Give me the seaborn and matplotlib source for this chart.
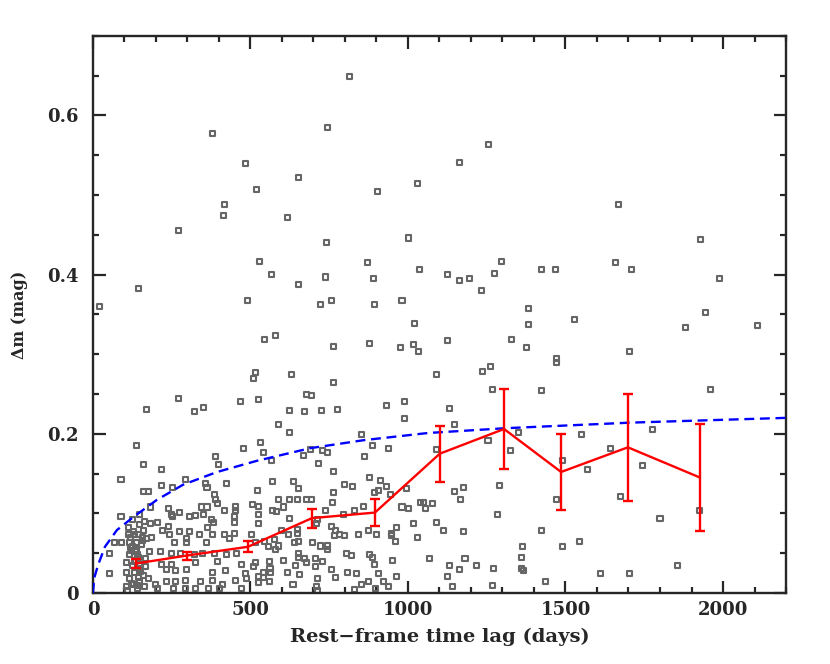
import numpy as np
import pandas as pd
import matplotlib
matplotlib.use("Agg")
import matplotlib.pyplot as plt
from matplotlib.ticker import MultipleLocator
import seaborn as sns

# individual pairs: rest-frame lag (days), |delta m| (mag)
lag = [
    813, 378, 743, 483, 654, 520, 902, 1029, 416, 413, 619, 270, 740, 1003, 530, 873,
    1035, 568, 737, 889, 654, 146, 22, 489, 721, 756, 895, 981, 1022, 543, 578, 765,
    879, 975, 1016, 1032, 517, 511, 629, 762, 1089,
    1257, 1162, 1667, 1927, 1298, 1660, 1124, 1162, 1194, 1276, 1425, 1467, 1708, 1990,
    1232, 1384, 1384, 1530, 1943, 1882, 2111, 1127, 1330, 1375, 1702, 1473, 1470, 1263,
    1235, 1959, 1267, 1425,
    1775, 1644, 1743, 1676, 1924, 1800, 1854, 1610, 1702,
    1133, 1149, 1352, 1552, 1254, 1089, 1327, 1489, 1571, 1175, 1149, 1289, 1168, 1473,
    1048, 1057, 1079, 1283, 1089, 1114, 1175, 1425, 1365, 1489, 1546, 1067, 1181, 1359,
    1133, 1219, 1162, 1270, 1359, 1368, 1124, 1140, 1267, 1435,
    524, 679, 695, 933, 990, 990, 625, 673, 727, 775, 590, 625, 533, 540, 854, 886,
    937, 689, 730, 746, 667, 863, 717, 568, 765, 879, 914, 571, 638, 800, 825, 933,
    651, 905, 895, 762, 946, 994, 521, 625, 648, 679, 695, 759, 590, 524, 606, 571,
    584, 737, 829, 860, 981, 1003, 1041, 625, 794, 524, 714, 527, 597, 648, 648, 654,
    641, 622, 756, 771, 784, 800, 768, 711, 844, 876, 901, 949, 949, 965, 959, 1016,
    1029, 543, 575, 556, 581, 590, 606, 698, 721, 743, 746, 806, 822, 651, 654, 673,
    705, 730, 679, 879, 886, 895, 952, 517, 559, 562, 540, 565, 616, 644, 705, 756,
    809, 838, 905, 657, 714, 771, 962, 540, 559, 635, 711, 714, 854, 876, 921, 937,
    829, 898, 527, 524,
    270, 171, 321, 352, 467, 137, 479, 390, 397, 162, 216, 89, 295, 425, 216, 251,
    356, 362, 159, 175, 387, 390, 394, 184, 346, 362, 451, 508, 241, 89, 149, 248,
    276, 308, 327, 352, 254, 375, 384, 419, 451, 448, 448, 124, 184, 206, 159, 222,
    241, 276, 308, 337, 365, 67, 92, 114, 133, 146, 117, 137, 187, 171, 244, 260,
    298, 298, 359, 378, 419, 448, 432, 502, 517, 54, 121, 181, 213, 248, 279, 321,
    349, 387, 425, 457, 108, 149, 216, 248, 327, 394, 470, 511, 105, 133, 152, 235,
    263, 298, 378, 422, 483, 54, 117, 149, 175, 232, 263, 295, 340, 378, 454, 486,
    108, 140, 165, 206, 257, 295, 327, 368, 403, 473, 130, 197, 410, 117, 140,
    112, 126, 143, 155, 168, 119, 131, 147, 160, 122, 137, 152, 166, 128, 145, 158,
    111, 134, 150, 163, 124, 141, 156, 118, 135,
]
dmag = [
    0.649, 0.577, 0.585, 0.539, 0.522, 0.507, 0.505, 0.514, 0.488, 0.474, 0.472, 0.456,
    0.440, 0.446, 0.416, 0.415, 0.407, 0.400, 0.397, 0.395, 0.387, 0.382, 0.360, 0.367,
    0.363, 0.367, 0.362, 0.368, 0.339, 0.318, 0.324, 0.310, 0.313, 0.308, 0.312, 0.303,
    0.277, 0.269, 0.275, 0.264, 0.275,
    0.563, 0.541, 0.488, 0.444, 0.416, 0.415, 0.400, 0.393, 0.395, 0.401, 0.406, 0.406,
    0.407, 0.395, 0.380, 0.358, 0.337, 0.344, 0.352, 0.334, 0.336, 0.317, 0.319, 0.308,
    0.303, 0.294, 0.289, 0.284, 0.278, 0.256, 0.256, 0.255,
    0.206, 0.181, 0.160, 0.121, 0.103, 0.094, 0.034, 0.024, 0.025,
    0.232, 0.212, 0.201, 0.199, 0.191, 0.180, 0.179, 0.167, 0.155, 0.133, 0.127, 0.135,
    0.118, 0.118, 0.114, 0.106, 0.112, 0.098, 0.089, 0.078, 0.077, 0.078, 0.058, 0.058,
    0.065, 0.043, 0.043, 0.044, 0.034, 0.035, 0.030, 0.031, 0.031, 0.028, 0.021, 0.008,
    0.009, 0.014,
    0.243, 0.249, 0.248, 0.236, 0.241, 0.219, 0.229, 0.228, 0.229, 0.230, 0.212, 0.201,
    0.189, 0.176, 0.199, 0.185, 0.181, 0.180, 0.179, 0.177, 0.173, 0.171, 0.163, 0.167,
    0.153, 0.145, 0.141, 0.140, 0.140, 0.136, 0.134, 0.134, 0.131, 0.129, 0.126, 0.126,
    0.124, 0.131, 0.129, 0.118, 0.117, 0.117, 0.118, 0.114, 0.117, 0.109, 0.108, 0.104,
    0.102, 0.103, 0.104, 0.109, 0.108, 0.106, 0.114, 0.094, 0.099, 0.098, 0.092, 0.087,
    0.079, 0.080, 0.075, 0.065, 0.063, 0.073, 0.084, 0.078, 0.073, 0.072, 0.072, 0.087,
    0.074, 0.078, 0.073, 0.075, 0.072, 0.082, 0.065, 0.087, 0.070, 0.065, 0.067, 0.058,
    0.054, 0.059, 0.041, 0.064, 0.059, 0.059, 0.055, 0.050, 0.047, 0.049, 0.045, 0.043,
    0.043, 0.039, 0.038, 0.048, 0.044, 0.036, 0.041, 0.038, 0.039, 0.031, 0.026, 0.026,
    0.026, 0.035, 0.033, 0.030, 0.026, 0.025, 0.025, 0.023, 0.018, 0.019, 0.021, 0.019,
    0.014, 0.011, 0.008, 0.003, 0.011, 0.015, 0.014, 0.008, 0.004, 0.006, 0.021, 0.013,
    0.244, 0.231, 0.228, 0.233, 0.240, 0.185, 0.182, 0.171, 0.161, 0.162, 0.155, 0.143,
    0.142, 0.137, 0.135, 0.132, 0.137, 0.132, 0.128, 0.128, 0.124, 0.118, 0.113, 0.108,
    0.108, 0.108, 0.108, 0.111, 0.106, 0.096, 0.098, 0.098, 0.101, 0.096, 0.097, 0.098,
    0.096, 0.092, 0.088, 0.103, 0.103, 0.096, 0.088, 0.092, 0.087, 0.088, 0.079, 0.078,
    0.083, 0.077, 0.077, 0.074, 0.082, 0.063, 0.063, 0.073, 0.074, 0.074, 0.064, 0.064,
    0.070, 0.068, 0.074, 0.063, 0.068, 0.063, 0.063, 0.073, 0.073, 0.075, 0.068, 0.073,
    0.064, 0.049, 0.053, 0.052, 0.052, 0.049, 0.049, 0.048, 0.050, 0.049, 0.048, 0.049,
    0.038, 0.036, 0.036, 0.036, 0.038, 0.039, 0.036, 0.033, 0.026, 0.026, 0.029, 0.030,
    0.028, 0.029, 0.026, 0.028, 0.025, 0.024, 0.018, 0.015, 0.018, 0.015, 0.015, 0.016,
    0.015, 0.016, 0.016, 0.018, 0.008, 0.006, 0.008, 0.006, 0.006, 0.006, 0.005, 0.005,
    0.006, 0.005, 0.011, 0.011, 0.011, 0.048, 0.048,
    0.082, 0.058, 0.045, 0.061, 0.033, 0.070, 0.040, 0.086, 0.022, 0.012, 0.055, 0.031,
    0.043, 0.077, 0.019, 0.066, 0.003, 0.052, 0.027, 0.090, 0.035, 0.009, 0.070, 0.057,
    0.041,
]

# binned means with errors
bin_lag = [137, 298, 492, 695, 895, 1101, 1305, 1486, 1698, 1927]
bin_dm = [0.037, 0.047, 0.058, 0.094, 0.101, 0.175, 0.206, 0.152, 0.183, 0.145]
bin_err = [0.006, 0.005, 0.007, 0.012, 0.017, 0.035, 0.050, 0.048, 0.067, 0.067]

# model curve
model_lag = [0, 1, 5, 16, 38, 76, 127, 203, 286, 394, 520, 691, 860, 1064,
             1309, 1706, 2200]
model_dm = [0.0, 0.006, 0.020, 0.035, 0.058, 0.079, 0.095, 0.117, 0.136, 0.152,
            0.166, 0.182, 0.192, 0.201, 0.207, 0.214, 0.220]

pts = pd.DataFrame({"lag": lag, "dm": dmag})
binned = pd.DataFrame({"lag": bin_lag, "dm": bin_dm, "err": bin_err})
model = pd.DataFrame({"lag": model_lag, "dm": model_dm})

sns.set_style("ticks")
plt.rcParams["font.family"] = ["DejaVu Serif"]
plt.rcParams["font.weight"] = "bold"

fig = plt.figure(figsize=(8.3, 6.64), dpi=100)
ax = fig.add_axes([0.112, 0.107, 0.835, 0.839])

sns.scatterplot(data=pts, x="lag", y="dm", ax=ax, marker="s", s=13,
                facecolor="none", edgecolor="#666666", linewidth=1.5, zorder=2)
sns.lineplot(data=model, x="lag", y="dm", ax=ax, color="#0000ff", linewidth=1.7,
             zorder=3).lines[-1].set_dashes([4.2, 2.4])
sns.lineplot(data=binned, x="lag", y="dm", ax=ax, color="red", linewidth=1.7,
             zorder=4)
ax.errorbar(binned["lag"], binned["dm"], yerr=binned["err"], fmt="none",
            ecolor="red", elinewidth=1.7, capsize=3.5, capthick=1.7, zorder=4)

ax.set_xlim(0, 2200)
ax.set_ylim(0, 0.7)
ax.xaxis.set_major_locator(MultipleLocator(500))
ax.xaxis.set_minor_locator(MultipleLocator(100))
ax.yaxis.set_major_locator(MultipleLocator(0.2))
ax.yaxis.set_minor_locator(MultipleLocator(0.05))
ax.xaxis.set_major_formatter(plt.FuncFormatter(lambda v, p: f"{v:.0f}"))
ax.yaxis.set_major_formatter(plt.FuncFormatter(lambda v, p: "0" if v == 0 else f"{v:.1f}"))

ax.tick_params(which="both", direction="in", top=True, right=True, width=1.6,
               labelsize=13)
ax.tick_params(axis="x", pad=6)
ax.tick_params(axis="y", pad=10)
ax.tick_params(which="major", length=9)
ax.tick_params(which="minor", length=4.5)
for s in ax.spines.values():
    s.set_linewidth(1.7)

ax.set_xlabel("Rest\u2212frame time lag (days)", fontsize=14, fontweight="bold",
              labelpad=6)
ax.set_ylabel("\u0394m (mag)", fontsize=11.5, fontweight="bold", labelpad=14)

fig.savefig("out.png", dpi=100)
